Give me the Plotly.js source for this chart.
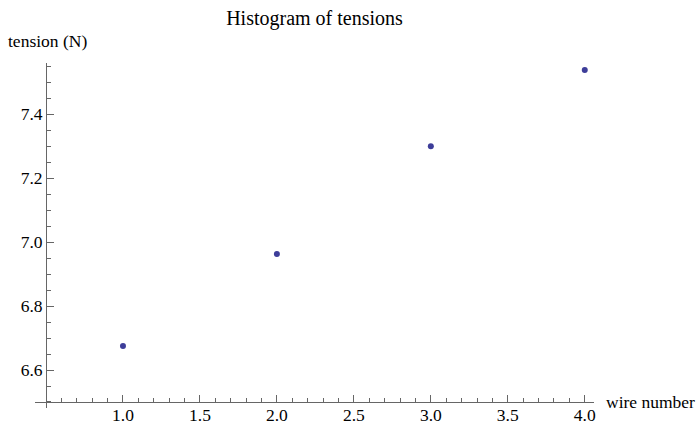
<!DOCTYPE html>
<html>
<head>
<meta charset="utf-8">
<script src="https://cdn.plot.ly/plotly-3.0.1.min.js"></script>
<style>html,body{margin:0;padding:0;background:#fff;}#plot{width:699px;height:426px;}</style>
</head>
<body>
<div id="plot"></div>
<script>
const wireNumbers = [1, 2, 3, 4];
const tensions = [6.675, 6.963, 7.300, 7.538];
const xTickVals = [1.0, 1.5, 2.0, 2.5, 3.0, 3.5, 4.0];
const xTickText = ["1.0", "1.5", "2.0", "2.5", "3.0", "3.5", "4.0"];
const yTickVals = [6.6, 6.8, 7.0, 7.2, 7.4];
const yTickText = ["6.6", "6.8", "7.0", "7.2", "7.4"];

const font = {family: "Liberation Serif, Times New Roman, serif", size: 17.5, color: "#000"};
const axisColor = "#666";

const trace = {
  x: wireNumbers, y: tensions, type: "scatter", mode: "markers",
  marker: {color: "#3d3d99", size: 6},
  hoverinfo: "x+y"
};

const layout = {
  width: 699, height: 426,
  margin: {l: 35, r: 105, t: 63, b: 18},
  paper_bgcolor: "#fff", plot_bgcolor: "#fff",
  showlegend: false,
  font: font,
  title: {text: "Histogram of tensions", font: {family: font.family, size: 20, color: "#000"}, x: 0.5, xref: "paper", xanchor: "center", y: 0.957, yanchor: "middle"},
  xaxis: {
    range: [0.4285, 4.06], anchor: "free", position: 0.0174,
    showgrid: false, zeroline: false, showline: true, linecolor: axisColor, linewidth: 1,
    ticks: "inside", ticklen: 7, tickcolor: axisColor, tickwidth: 1,
    tickmode: "array", tickvals: xTickVals, ticktext: xTickText,
    tickfont: font, ticklabelstandoff: -3,
    minor: {ticks: "inside", ticklen: 4, tickcolor: axisColor, tickmode: "linear", tick0: 0.5, dtick: 0.1, showgrid: false}
  },
  yaxis: {
    range: [6.4812, 7.56], anchor: "free", position: 0.0197,
    showgrid: false, zeroline: false, showline: true, linecolor: axisColor, linewidth: 1,
    ticks: "inside", ticklen: 7, tickcolor: axisColor, tickwidth: 1,
    tickmode: "array", tickvals: yTickVals, ticktext: yTickText,
    tickfont: font,
    minor: {ticks: "inside", ticklen: 4, tickcolor: axisColor, tickmode: "linear", tick0: 6.5, dtick: 0.05, showgrid: false}
  },
  annotations: [
    {text: "wire number", xref: "paper", yref: "y", x: 1.0, y: 6.5, xanchor: "left", yanchor: "middle", xshift: 10, showarrow: false, font: font},
    {text: "tension (N)", xref: "paper", yref: "paper", x: 0, y: 1, xanchor: "left", yanchor: "bottom", xshift: -29, yshift: 10, showarrow: false, font: font}
  ]
};

Plotly.newPlot("plot", [trace], layout, {displayModeBar: false, staticPlot: true});
</script>
</body>
</html>
